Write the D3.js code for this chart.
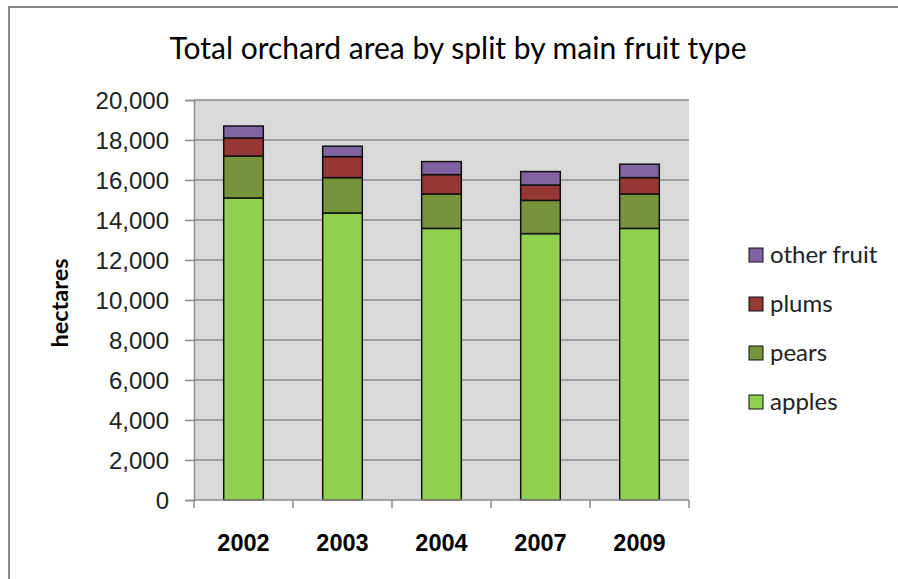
<!DOCTYPE html>
<html>
<head>
<meta charset="utf-8">
<script src="https://cdn.jsdelivr.net/npm/d3@7"></script>
<style>
  body { margin: 0; background: #fff; }
  svg { display: block; font-family: Lato, "Open Sans", sans-serif; }
  .title { font-size: 30px; fill: #000; }
  .yaxis text { font-size: 24px; fill: #222; }
  .xaxis text { font-size: 23.5px; font-weight: bold; fill: #000; }
  .ylabel { font-size: 23.5px; font-weight: bold; }
  .legend text { font-size: 24px; fill: #222; }
</style>
</head>
<body>
<div id="chart"></div>
<script>
"use strict";

// Data
// ----

var years   = ["2002", "2003", "2004", "2007", "2009"];
var apples  = [15100, 14350, 13580, 13320, 13580];
var pears   = [2100, 1770, 1720, 1660, 1720];
var plums   = [900, 1050, 970, 770, 820];
var other   = [600, 520, 650, 670, 670];
var yTicks  = [0, 2000, 4000, 6000, 8000, 10000, 12000, 14000, 16000, 18000, 20000];

var series = [
  {key: "apples",      values: apples, color: "#92d050"},
  {key: "pears",       values: pears,  color: "#77933c"},
  {key: "plums",       values: plums,  color: "#953735"},
  {key: "other fruit", values: other,  color: "#8064a2"}
];


// Layout
// ------

var W = 898, H = 579,
    plot = {left: 194, right: 689, top: 100, bottom: 500};

var svg = d3.select("#chart").append("svg")
    .attr("width", W)
    .attr("height", H);

// chart border
svg.append("rect")
    .attr("x", 9).attr("y", 7)
    .attr("width", W + 20).attr("height", H + 20)
    .attr("fill", "#fff")
    .attr("stroke", "#888")
    .attr("stroke-width", 2);

svg.append("text")
    .attr("class", "title")
    .attr("x", 458).attr("y", 59)
    .attr("text-anchor", "middle")
    .text("Total orchard area by split by main fruit type");


// Scales

var x = d3.scaleBand().domain(years)
    .range([plot.left, plot.right])
    .paddingInner(0.6).paddingOuter(0.3);

var xb = d3.scaleBand().domain(years)
    .range([plot.left, plot.right]);

var y = d3.scaleLinear().domain([0, 20000])
    .range([plot.bottom, plot.top]);


// Plot area and grid

svg.append("rect")
    .attr("x", plot.left).attr("y", plot.top)
    .attr("width", plot.right - plot.left)
    .attr("height", plot.bottom - plot.top)
    .attr("fill", "#d9d9d9");

svg.append("g").selectAll("line")
  .data(yTicks.filter(function(d){ return d > 0; }))
  .join("line")
    .attr("x1", plot.left).attr("x2", plot.right)
    .attr("y1", function(d){ return y(d); })
    .attr("y2", function(d){ return y(d); })
    .attr("stroke", "#8c8c8c")
    .attr("stroke-width", 1.5);


// Stacked bars

var rows = years.map(function(yr, i) {
  var r = {year: yr};
  series.forEach(function(s){ r[s.key] = s.values[i]; });
  return r;
});

var stack = d3.stack().keys(series.map(function(s){ return s.key; }))(rows);

svg.append("g").selectAll("g")
  .data(stack)
  .join("g")
    .attr("fill", function(d, i){ return series[i].color; })
  .selectAll("rect")
  .data(function(d){ return d; })
  .join("rect")
    .attr("x", function(d){ return x(d.data.year); })
    .attr("width", x.bandwidth())
    .attr("y", function(d){ return y(d[1]); })
    .attr("height", function(d){ return y(d[0]) - y(d[1]); })
    .attr("stroke", "#111")
    .attr("stroke-width", 1.5);


// Axes

var yAxis = svg.append("g")
    .attr("class", "yaxis")
    .attr("transform", "translate(" + plot.left + ",0)")
    .call(d3.axisLeft(y).tickValues(yTicks).tickSize(9).tickPadding(16)
      .tickFormat(d3.format(",")));
yAxis.select(".domain").attr("stroke", "#8c8c8c").attr("stroke-width", 1.5);
yAxis.selectAll(".tick line").attr("stroke", "#8c8c8c").attr("stroke-width", 1.5);
yAxis.selectAll("text").attr("dy", "0.35em");

var xAxis = svg.append("g")
    .attr("class", "xaxis")
    .attr("transform", "translate(0," + plot.bottom + ")")
    .call(d3.axisBottom(x).tickSize(0).tickPadding(34));
xAxis.select(".domain").remove();
xAxis.append("line")
    .attr("x1", plot.left).attr("x2", plot.right)
    .attr("stroke", "#8c8c8c").attr("stroke-width", 1.5);
xAxis.selectAll(".sep")
  .data(years.concat(["end"]))
  .join("line")
    .attr("class", "sep")
    .attr("x1", function(d, i){ return plot.left + i * xb.step(); })
    .attr("x2", function(d, i){ return plot.left + i * xb.step(); })
    .attr("y1", 0).attr("y2", 8)
    .attr("stroke", "#8c8c8c").attr("stroke-width", 1.5);

svg.append("text")
    .attr("class", "ylabel")
    .attr("transform", "translate(68,303) rotate(-90)")
    .attr("text-anchor", "middle")
    .text("hectares");


// Legend

var legend = svg.append("g")
    .attr("class", "legend")
  .selectAll("g")
  .data(series.slice().reverse())
  .join("g")
    .attr("transform", function(d, i){ return "translate(749," + (255 + i * 49) + ")"; });

legend.append("rect")
    .attr("x", 0).attr("y", -7)
    .attr("width", 14).attr("height", 14)
    .attr("fill", function(d){ return d.color; })
    .attr("stroke", "#111")
    .attr("stroke-width", 1);

legend.append("text")
    .attr("x", 21).attr("y", 0)
    .attr("dy", "0.35em")
    .text(function(d){ return d.key; });
</script>
</body>
</html>
